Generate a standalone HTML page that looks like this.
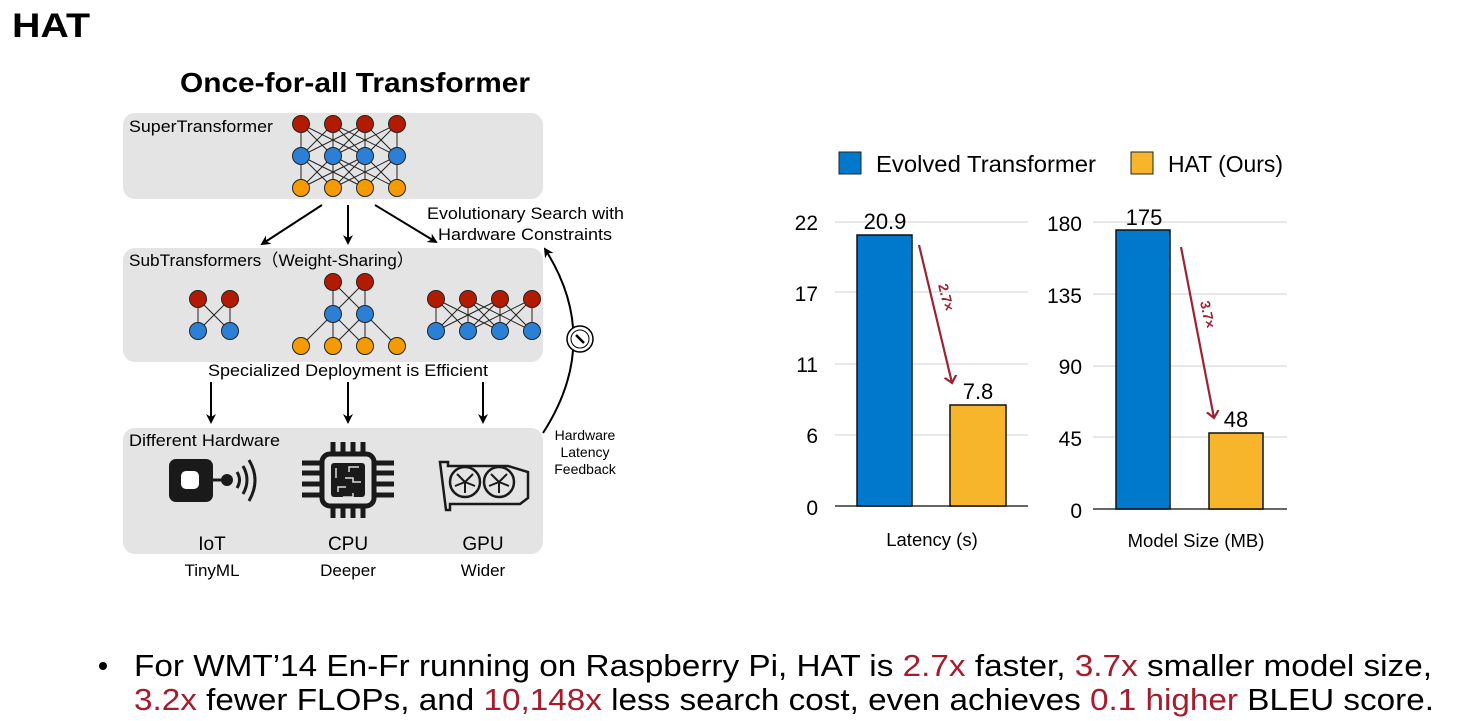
<!DOCTYPE html>
<html><head><meta charset="utf-8"><style>
body{margin:0;background:#fff;width:1462px;height:721px;overflow:hidden;font-family:"Liberation Sans",Arial,sans-serif}
svg{position:absolute;left:0;top:0}
</style></head><body>
<svg width="1462" height="721" viewBox="0 0 1462 721" font-family="Liberation Sans, Arial, sans-serif">
<defs>
<marker id="ah" markerWidth="10" markerHeight="10" refX="8" refY="5" orient="auto" markerUnits="userSpaceOnUse"><path d="M0,0 L10,5 L0,10 L3,5z" fill="#000"/></marker>
<marker id="ar" markerWidth="14" markerHeight="14" refX="7" refY="7" orient="auto" markerUnits="userSpaceOnUse"><path d="M0,1 L7,7 L0,13" fill="none" stroke="#9b2335" stroke-width="2.2"/></marker>
</defs>
<text x="12" y="37" font-size="34" font-weight="bold" textLength="78" lengthAdjust="spacingAndGlyphs">HAT</text>
<text x="180" y="92" font-size="28" font-weight="bold" textLength="350" lengthAdjust="spacingAndGlyphs">Once-for-all Transformer</text>

<rect x="123" y="113" width="420" height="86" rx="12" fill="#e4e4e4"/>
<rect x="123" y="248" width="420" height="114" rx="12" fill="#e4e4e4"/>
<rect x="123" y="428" width="420" height="126" rx="12" fill="#e4e4e4"/>
<text x="129" y="132" font-size="17" textLength="144" lengthAdjust="spacingAndGlyphs">SuperTransformer</text>
<text x="129" y="266" font-size="17" textLength="285" lengthAdjust="spacingAndGlyphs">SubTransformers（Weight-Sharing）</text>
<text x="129" y="446" font-size="17" textLength="151" lengthAdjust="spacingAndGlyphs">Different Hardware</text>

<g stroke="#222" stroke-width="1">
<path d="M301,124L301,188M333,124L333,188M365,124L365,188M397,124L397,188
M301,124L333,156M301,124L365,156M333,124L301,156M333,124L365,156M333,124L397,156M365,124L301,156M365,124L333,156M365,124L397,156M397,124L333,156M397,124L365,156
M301,156L333,188M301,156L365,188M333,156L301,188M333,156L365,188M333,156L397,188M365,156L301,188M365,156L333,188M365,156L397,188M397,156L333,188M397,156L365,188"/>
<path d="M198,299L198,331M230,299L230,331M198,299L230,331M230,299L198,331"/>
<path d="M333,282L333,314M365,282L365,314M333,282L365,314M365,282L333,314M333,314L301,346M333,314L333,346M333,314L365,346M365,314L333,346M365,314L365,346M365,314L397,346"/>
<path d="M436,299L436,331M468,299L468,331M500,299L500,331M532,299L532,331M436,299L468,331M436,299L500,331M468,299L436,331M468,299L500,331M468,299L532,331M500,299L436,331M500,299L468,331M500,299L532,331M532,299L468,331M532,299L500,331"/>
</g>
<g stroke="#222" stroke-width="1">
<g fill="#b31b00"><circle cx="301" cy="124" r="8.5"/><circle cx="333" cy="124" r="8.5"/><circle cx="365" cy="124" r="8.5"/><circle cx="397" cy="124" r="8.5"/>
<circle cx="198" cy="299" r="8.5"/><circle cx="230" cy="299" r="8.5"/><circle cx="333" cy="282" r="8.5"/><circle cx="365" cy="282" r="8.5"/>
<circle cx="436" cy="299" r="8.5"/><circle cx="468" cy="299" r="8.5"/><circle cx="500" cy="299" r="8.5"/><circle cx="532" cy="299" r="8.5"/></g>
<g fill="#2b7fd4"><circle cx="301" cy="156" r="8.5"/><circle cx="333" cy="156" r="8.5"/><circle cx="365" cy="156" r="8.5"/><circle cx="397" cy="156" r="8.5"/>
<circle cx="198" cy="331" r="8.5"/><circle cx="230" cy="331" r="8.5"/><circle cx="333" cy="314" r="8.5"/><circle cx="365" cy="314" r="8.5"/>
<circle cx="436" cy="331" r="8.5"/><circle cx="468" cy="331" r="8.5"/><circle cx="500" cy="331" r="8.5"/><circle cx="532" cy="331" r="8.5"/></g>
<g fill="#f59b00"><circle cx="301" cy="188" r="8.5"/><circle cx="333" cy="188" r="8.5"/><circle cx="365" cy="188" r="8.5"/><circle cx="397" cy="188" r="8.5"/>
<circle cx="301" cy="346" r="8.5"/><circle cx="333" cy="346" r="8.5"/><circle cx="365" cy="346" r="8.5"/><circle cx="397" cy="346" r="8.5"/></g>
</g>

<g stroke="#000" stroke-width="2" marker-end="url(#ah)">
<line x1="322" y1="205" x2="262" y2="244"/><line x1="348" y1="205" x2="348" y2="243"/><line x1="375" y1="205" x2="436" y2="242"/>
<line x1="211" y1="382" x2="211" y2="422"/><line x1="348" y1="382" x2="348" y2="422"/><line x1="483" y1="382" x2="483" y2="422"/>
<path d="M543,433 Q603,340 545,249" fill="none"/>
</g>
<circle cx="580" cy="339" r="13" fill="#fff" stroke="#000" stroke-width="1.5"/>
<circle cx="580" cy="339" r="9" fill="none" stroke="#000" stroke-width="1"/>
<path d="M576,335 L584,343" stroke="#000" stroke-width="2.5"/>
<text x="427" y="219" font-size="17" textLength="197" lengthAdjust="spacingAndGlyphs">Evolutionary Search with</text>
<text x="438" y="240" font-size="17" textLength="174" lengthAdjust="spacingAndGlyphs">Hardware Constraints</text>
<text x="208" y="376" font-size="17" textLength="280" lengthAdjust="spacingAndGlyphs">Specialized Deployment is Efficient</text>
<text x="585" y="440" font-size="14" text-anchor="middle">Hardware</text>
<text x="585" y="457" font-size="14" text-anchor="middle">Latency</text>
<text x="585" y="474" font-size="14" text-anchor="middle">Feedback</text>

<rect x="169" y="459" width="44" height="43" rx="7" fill="#1a1a1a"/>
<rect x="181" y="471" width="18" height="18" rx="5" fill="#fff"/>
<line x1="210" y1="480" x2="226" y2="480" stroke="#1a1a1a" stroke-width="3"/>
<circle cx="227" cy="480" r="6" fill="#1a1a1a"/>
<g fill="none" stroke="#1a1a1a" stroke-width="3"><path d="M237,472 Q242,480 237,488"/><path d="M243,466 Q251,480 243,494"/><path d="M249,460 Q261,480 249,501"/></g>
<rect x="322" y="454" width="52" height="52" rx="8" fill="none" stroke="#1a1a1a" stroke-width="5"/>
<rect x="331" y="463" width="34" height="34" rx="3" fill="#1a1a1a"/>
<g stroke="#1a1a1a" stroke-width="5"><path d="M333,442v10M343,442v10M353,442v10M363,442v10M333,508v10M343,508v10M353,508v10M363,508v10M302,463h18M302,473h18M302,484h18M302,495h18M376,463h18M376,473h18M376,484h18M376,495h18"/></g>
<g stroke="#ddd" stroke-width="1.5" fill="none"><path d="M336,468v10M349,472v-5h10M345,478h8v4h8M338,492v-5h8M343,497h10v-4"/></g>
<path d="M440,462 h8 v4 h60 l20,6 v26 l-8,6 h-70 v6 h-4z" fill="none" stroke="#1a1a1a" stroke-width="2.5"/>
<circle cx="465" cy="482" r="15" fill="none" stroke="#1a1a1a" stroke-width="2.5"/>
<circle cx="499" cy="482" r="15" fill="none" stroke="#1a1a1a" stroke-width="2.5"/>
<g stroke="#1a1a1a" stroke-width="2"><path d="M465,482l8,-8M465,482l-8,-8M465,482l10,4M465,482l-10,4M465,482l0,11M499,482l8,-8M499,482l-8,-8M499,482l10,4M499,482l-10,4M499,482l0,11"/></g>
<text x="212" y="550" font-size="19" text-anchor="middle">IoT</text>
<text x="348" y="550" font-size="19" text-anchor="middle">CPU</text>
<text x="483" y="550" font-size="19" text-anchor="middle">GPU</text>
<text x="212" y="576" font-size="17" text-anchor="middle">TinyML</text>
<text x="348" y="576" font-size="17" text-anchor="middle">Deeper</text>
<text x="483" y="576" font-size="17" text-anchor="middle">Wider</text>

<rect x="839" y="152" width="22" height="22" fill="#0079cc" stroke="#222"/>
<text x="876" y="172" font-size="23" textLength="220" lengthAdjust="spacingAndGlyphs">Evolved Transformer</text>
<rect x="1131" y="152" width="22" height="22" fill="#f7b52b" stroke="#222"/>
<text x="1168" y="172" font-size="23" textLength="115" lengthAdjust="spacingAndGlyphs">HAT (Ours)</text>

<g stroke="#d0d0d0" stroke-width="1"><line x1="835" y1="222" x2="1028" y2="222"/><line x1="835" y1="292" x2="1028" y2="292"/><line x1="835" y1="364" x2="1028" y2="364"/><line x1="835" y1="435" x2="1028" y2="435"/></g>
<line x1="835" y1="506" x2="1028" y2="506" stroke="#333" stroke-width="1.5"/>
<g font-size="21" text-anchor="end"><text x="818" y="230">22</text><text x="818" y="301">17</text><text x="818" y="372">11</text><text x="818" y="443">6</text><text x="818" y="515">0</text></g>
<rect x="857" y="235" width="55" height="271" fill="#0079cc" stroke="#111" stroke-width="1.5"/>
<rect x="950" y="405" width="56" height="101" fill="#f7b52b" stroke="#111" stroke-width="1.5"/>
<text x="885" y="229" font-size="22" text-anchor="middle">20.9</text>
<text x="978" y="399" font-size="22" text-anchor="middle">7.8</text>
<line x1="919" y1="245" x2="952" y2="383" stroke="#9b2335" stroke-width="2.2" marker-end="url(#ar)"/>
<text transform="translate(938,285) rotate(76)" font-size="14" fill="#9b2335" font-weight="bold">2.7×</text>
<text x="932" y="546" font-size="18.5" text-anchor="middle">Latency (s)</text>

<g stroke="#d0d0d0" stroke-width="1"><line x1="1093" y1="222" x2="1287" y2="222"/><line x1="1093" y1="294" x2="1287" y2="294"/><line x1="1093" y1="366" x2="1287" y2="366"/><line x1="1093" y1="437" x2="1287" y2="437"/></g>
<line x1="1093" y1="509" x2="1287" y2="509" stroke="#333" stroke-width="1.5"/>
<g font-size="21" text-anchor="end"><text x="1082" y="231">180</text><text x="1082" y="303">135</text><text x="1082" y="374">90</text><text x="1082" y="446">45</text><text x="1082" y="518">0</text></g>
<rect x="1116" y="230" width="54" height="279" fill="#0079cc" stroke="#111" stroke-width="1.5"/>
<rect x="1209" y="433" width="54" height="76" fill="#f7b52b" stroke="#111" stroke-width="1.5"/>
<text x="1144" y="225" font-size="22" text-anchor="middle">175</text>
<text x="1236" y="427" font-size="22" text-anchor="middle">48</text>
<line x1="1181" y1="247" x2="1214" y2="418" stroke="#9b2335" stroke-width="2.2" marker-end="url(#ar)"/>
<text transform="translate(1200,302) rotate(78)" font-size="14" fill="#9b2335" font-weight="bold">3.7×</text>
<text x="1196" y="547" font-size="18.5" text-anchor="middle">Model Size (MB)</text>

<circle cx="103" cy="666" r="4" fill="#000"/>
<g font-size="31">
<text x="134" y="676" textLength="1298" lengthAdjust="spacingAndGlyphs">For WMT’14 En-Fr running on Raspberry Pi, HAT is <tspan fill="#a51d2d">2.7x</tspan> faster, <tspan fill="#a51d2d">3.7x</tspan> smaller model size,</text>
<text x="134" y="710" textLength="1300" lengthAdjust="spacingAndGlyphs"><tspan fill="#a51d2d">3.2x</tspan> fewer FLOPs, and <tspan fill="#a51d2d">10,148x</tspan> less search cost, even achieves <tspan fill="#a51d2d">0.1 higher</tspan> BLEU score.</text>
</g>
</svg>
</body></html>
